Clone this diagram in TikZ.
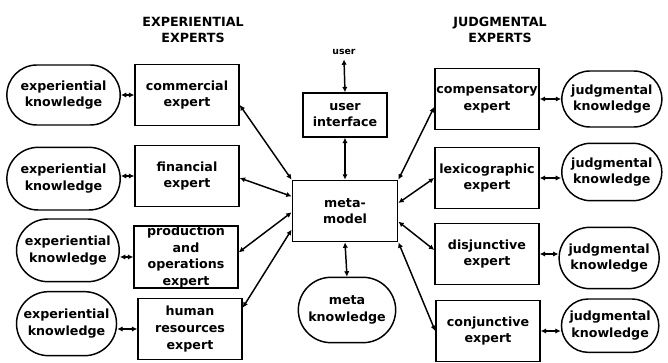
\documentclass[tikz,border=0pt]{standalone}
\usepackage{fontspec}
\setmainfont{DejaVu Sans}
\usetikzlibrary{positioning,shapes.misc,arrows.meta}

\begin{document}
\begin{tikzpicture}[
  x=0.75pt, y=-0.75pt,
  node distance=10pt,
  >={Latex[length=4pt,width=4pt]},
  every node/.style={font=\bfseries\fontsize{9.5}{12.5}\selectfont, align=center},
  expert/.style={rectangle, draw, line width=1.1pt, minimum width=78pt, minimum height=46pt, inner sep=1pt},
  know/.style={rounded rectangle, draw, line width=1.1pt, minimum width=80pt, minimum height=44pt, inner sep=1pt},
  link/.style={<->, line width=1.1pt},
  heading/.style={font=\bfseries\fontsize{9.5}{12}\selectfont}
]
\useasboundingbox (0,0) rectangle (668,363);

% ====== NAGLOWKI ======
\node[heading] (exphead) at (193,30) {EXPERIENTIAL\\EXPERTS};
\node[heading] (judghead) at (500,30) {JUDGMENTAL\\EXPERTS};

% ====== SRODEK ======
\node[font=\bfseries\fontsize{7}{8}\selectfont] (user) at (344,52) {user};
\node[expert, minimum width=63pt, minimum height=33pt] (ui) at (345,115) {user\\interface};
\node[expert, minimum width=79pt, minimum height=46pt] (metamodel) at (345,211) {meta-\\model};
\node[know, minimum width=75pt, minimum height=49pt] (metaknow) at (347,310) {meta\\knowledge};

\draw[link] (ui.north) -- (user.south);
\draw[link] (ui.south) -- (metamodel.north);
\draw[link] (metamodel.south) -- (metaknow.north);

% ====== LEWY SLUPEK ======
\node[expert] (commercial) at (187,95) {commercial\\expert};
\node[expert] (financial) at (187,176) {financial\\expert};
\node[expert, inner sep=0pt] (production) at (186,257) {production\\and\\operations\\expert};
\node[expert] (human) at (190,329) {human\\resources\\expert};

\node[know, minimum width=87pt, minimum height=45pt, left=of commercial] (expk1) {experiential\\knowledge};
\node[know, minimum width=87pt, minimum height=47pt, left=of financial, yshift=-2pt] (expk2) {experiential\\knowledge};
\node[know, minimum width=79pt, minimum height=47pt, left=of production, yshift=5pt] (expk3) {experiential\\knowledge};
\node[know, minimum width=77pt, minimum height=48pt, left=15pt of human, yshift=4pt] (expk4) {experiential\\knowledge};

\draw[link] (commercial.west) -- (commercial.west -| expk1.east);
\draw[link] (financial.west) -- (financial.west -| expk2.east);
\draw[link] (production.west) -- (production.west -| expk3.east);
\draw[link] (human.west) -- (human.west -| expk4.east);

\draw[link] ([yshift=-7.5pt]commercial.east) -- (metamodel.north west);
\draw[link] ([yshift=-1.5pt]financial.east) -- ([yshift=11pt]metamodel.west);
\draw[link] ([yshift=3.5pt]production.east) -- ([yshift=-1pt]metamodel.west);
\draw[link] ([yshift=16pt]human.east) -- ([yshift=-14pt]metamodel.west);

% ====== PRAWY SLUPEK ======
\node[expert] (compensatory) at (487,99) {compensatory\\expert};
\node[expert] (lexicographic) at (487,178) {lexicographic\\expert};
\node[expert] (disjunctive) at (487,254) {disjunctive\\expert};
\node[expert] (conjunctive) at (488,331) {conjunctive\\expert};

\node[know, minimum width=77pt, minimum height=42pt, right=16pt of compensatory] (judgk1) {judgmental\\knowledge};
\node[know, minimum width=77pt, minimum height=43pt, right=16pt of lexicographic, yshift=4.5pt] (judgk2) {judgmental\\knowledge};
\node[know, minimum width=77pt, minimum height=46pt, right=14pt of disjunctive, yshift=-3pt] (judgk3) {judgmental\\knowledge};
\node[know, minimum width=75pt, minimum height=40pt, right=15pt of conjunctive, yshift=4pt] (judgk4) {judgmental\\knowledge};

\draw[link] (compensatory.east) -- (compensatory.east -| judgk1.west);
\draw[link] (lexicographic.east) -- (lexicographic.east -| judgk2.west);
\draw[link] (disjunctive.east) -- (disjunctive.east -| judgk3.west);
\draw[link] (conjunctive.east) -- (conjunctive.east -| judgk4.west);

\draw[link] ([yshift=-6pt]compensatory.west) -- (metamodel.north east);
\draw[link] (lexicographic.west) -- ([yshift=6pt]metamodel.east);
\draw[link] ([yshift=3pt]disjunctive.west) -- ([yshift=-8pt]metamodel.east);
\draw[link] (conjunctive.west) -- (metamodel.south east);

\end{tikzpicture}
\end{document}
